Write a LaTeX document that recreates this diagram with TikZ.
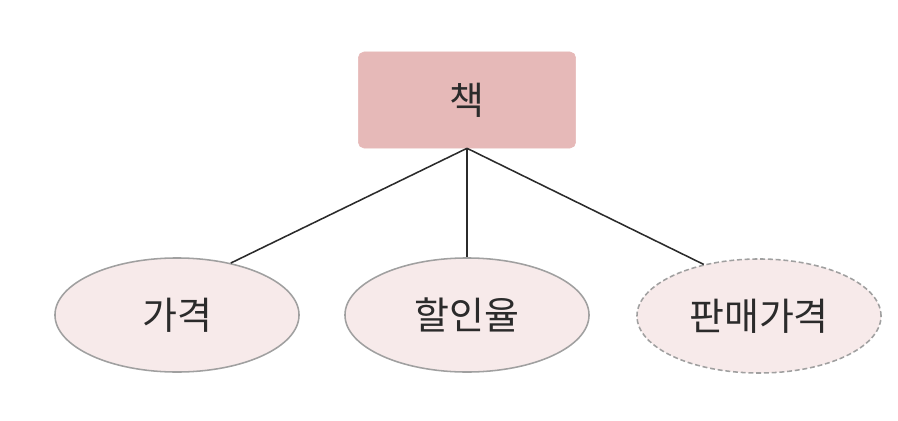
\documentclass[tikz,border=0pt]{standalone}
\usepackage{fontspec}
\setmainfont{Noto Sans CJK KR}
\usetikzlibrary{shapes.geometric}
\definecolor{boxred}{HTML}{E6B9B8}
\definecolor{ovalpink}{HTML}{F7EAEA}
\definecolor{rimgray}{HTML}{A0A0A0}
\definecolor{inkgray}{HTML}{2B2B2B}
\begin{document}
\begin{tikzpicture}[x=0.025cm, y=-0.025cm]
            \tikzset{
                entity/.style={draw=boxred, fill=boxred, rounded corners=4pt, minimum width=5.43cm, minimum height=2.4cm, inner sep=0pt, text=inkgray, font=\fontsize{27}{30}\selectfont},
                attrib/.style={ellipse, draw=rimgray, line width=1.1pt, fill=ovalpink, minimum width=6.1cm, minimum height=2.85cm, inner sep=0pt, text=inkgray, font=\fontsize{27}{30}\selectfont},
                derived/.style={attrib, dash pattern=on 3.5pt off 2pt}
            }
            % frame
            \useasboundingbox (0,0) rectangle (898,420);
            % entity
            \node[entity](book)at(467,100){책};
            % attributes
            \node[attrib](price)at(177,315){가격};
            \node[attrib](rate)at(467,315){할인율};
            \node[derived](sale)at(759,316){판매가격};
            % relations
            \path[draw, inkgray, line width=1.1pt](book.south)to(price.44);
            \path[draw, inkgray, line width=1.1pt](book.south)to(rate.north);
            \path[draw, inkgray, line width=1.1pt](book.south)to(sale.137);
        \end{tikzpicture}
\end{document}
